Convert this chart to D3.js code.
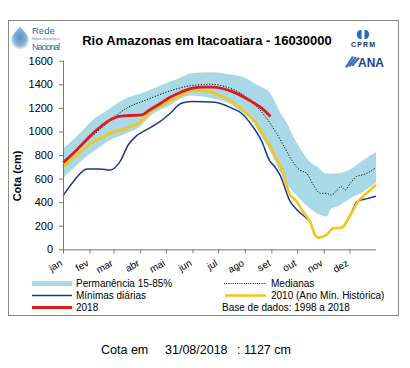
<!DOCTYPE html>
<html><head><meta charset="utf-8">
<script src="https://cdn.jsdelivr.net/npm/d3@7"></script>
<style>body{margin:0;background:#fff}svg{display:block}</style>
</head><body><svg id="c" width="410" height="368"></svg>
<script>
// ---- data (day of year, cota in cm) ----
const months = ["jan","fev","mar","abr","mai","jun","jul","ago","set","out","nov","dez"];
const monthStartDays = [0,31,59,90,120,151,181,212,243,273,304,334];
const yTicks = [0,200,400,600,800,1000,1200,1400,1600];

const bandDays  = [0,16,35,55,74,90,101,125,138,150,173,197,212,220,228,241,255,257,272,288,300,304,307,313,319,323,335,350,365];
const bandUpper = [855,956,1098,1197,1282,1320,1352,1423,1460,1494,1502,1480,1455,1423,1390,1330,1140,1120,910,740,680,650,645,640,645,648,680,755,825];
const bandLower = [605,716,829,928,985,1041,1126,1225,1282,1304,1282,1225,1140,1090,998,840,630,603,461,348,291,283,277,348,360,376,433,489,565];

const medDays = [0,16,35,50,74,97,125,150,173,189,204,220,236,249,261,269,276,284,292,300,307,313,319,324,329,335,342,352,365];
const medVals = [730,835,965,1060,1197,1267,1344,1389,1400,1380,1338,1253,1126,985,829,730,673,645,546,475,475,461,495,532,503,560,616,637,693];

const minDays = [0,12,28,43,55,67,76,86,97,113,125,138,150,177,197,208,220,232,241,247,253,265,273,284,288,294,298,307,315,325,335,343,355,365];
const minVals = [455,574,682,682,673,750,885,965,1013,1083,1154,1239,1253,1248,1197,1154,1055,913,750,700,631,404,334,263,234,121,99,121,178,184,291,404,430,450];

const y2010Days = [0,16,35,55,74,90,101,113,125,138,150,166,181,197,212,224,236,241,247,253,265,271,280,288,294,298,307,315,325,335,344,354,365];
const y2010Vals = [700,800,908,985,1027,1083,1168,1215,1260,1310,1345,1343,1310,1253,1168,1083,942,885,790,716,461,418,319,234,121,99,121,178,184,291,404,475,546];

const y2018Days = [0,16,35,55,64,78,92,101,113,125,138,150,163,175,187,197,210,220,232,242];
const y2018Vals = [735,843,985,1098,1126,1135,1140,1183,1235,1290,1335,1365,1375,1375,1362,1340,1295,1253,1195,1127];

const title = "Rio Amazonas em Itacoatiara - 16030000";
const yLabel = "Cota (cm)";
const legendItems = ["Permanência 15-85%","Medianas","Mínimas diárias","2010 (Ano Mín. Histórica)","2018","Base de dados: 1998 a 2018"];
const footer = ["Cota em","31/08/2018",": 1127 cm"];

// ---- drawing ----
const svg = d3.select("#c");
const FONT = "'Liberation Sans', Arial, sans-serif";
const cBand = "#a9d8e6", cMin = "#1a3a8e", c2010 = "#f5c518", c2018 = "#e0191d";

svg.append("rect").attr("width",410).attr("height",368).attr("fill","#fff");
svg.append("rect").attr("x",8.5).attr("y",20.5).attr("width",390).attr("height",295)
  .attr("fill","none").attr("stroke","#8c8c8c").attr("stroke-width",1);

const x = d3.scaleLinear().domain([0,365]).range([63,376]);
const y = d3.scaleLinear().domain([0,1600]).range([249.3,60.7]);

const curve = d3.curveMonotoneX;
const bandData = bandDays.map((d,i)=>({d, lo:bandLower[i], hi:bandUpper[i]}));
svg.append("path").datum(bandData).attr("fill",cBand)
  .attr("d", d3.area().curve(curve).x(p=>x(p.d)).y0(p=>y(p.lo)).y1(p=>y(p.hi)));

const line = d3.line().curve(curve).x(p=>x(p[0])).y(p=>y(p[1]));
function series(days, vals, color, w, dash){
  svg.append("path").datum(days.map((d,i)=>[d, vals[i]]))
    .attr("fill","none").attr("stroke",color).attr("stroke-width",w)
    .attr("stroke-linejoin","round").attr("stroke-dasharray",dash||null)
    .attr("d", line);
}
series(minDays, minVals, cMin, 1.5);
series(medDays, medVals, "#111", 1, "1.2,1.6");
series(y2010Days, y2010Vals, c2010, 2.6);
series(y2018Days, y2018Vals, c2018, 2.8);

// axes
const yAxis = svg.append("g").attr("transform","translate(63,0)")
  .call(d3.axisLeft(y).tickValues(yTicks).tickSize(4).tickPadding(6).tickFormat(d3.format("d")));
yAxis.select(".domain").attr("stroke","#777").attr("d","M0.5,60.7V249.3");
yAxis.selectAll(".tick line").attr("stroke","#777");
yAxis.selectAll("text").attr("font-family",FONT).attr("font-size",11).attr("fill","#000");

const xAxis = svg.append("g").attr("transform","translate(0,249.3)")
  .call(d3.axisBottom(x).tickValues(monthStartDays).tickSize(4).tickFormat(""));
xAxis.select(".domain").attr("stroke","#777").attr("d","M63,0.5H376");
xAxis.selectAll(".tick line").attr("stroke","#777");
svg.append("g").selectAll("text").data(months).join("text")
  .attr("transform",(m,i)=>`translate(${x(monthStartDays[i])},${265}) rotate(-30)`)
  .attr("text-anchor","end").attr("font-family",FONT).attr("font-size",10).attr("fill","#000")
  .text(m=>m);

svg.append("text").attr("transform","translate(21,176) rotate(-90)").attr("text-anchor","middle")
  .attr("font-family",FONT).attr("font-size",11).attr("font-weight","bold").text(yLabel);

svg.append("text").attr("x",207).attr("y",45).attr("text-anchor","middle")
  .attr("font-family",FONT).attr("font-size",13).attr("font-weight","bold").text(title);

// logos
const defs = svg.append("defs");
const g1 = defs.append("radialGradient").attr("id","drop");
g1.append("stop").attr("offset","0%").attr("stop-color","#3d7fb8");
g1.append("stop").attr("offset","70%").attr("stop-color","#6fa6d3");
g1.append("stop").attr("offset","100%").attr("stop-color","#cfe3f3");
svg.append("path").attr("d","M20,26 C24,32 29,35 29,41 C29,46 25,49 20,49 C15,49 11,46 11,41 C11,35 16,32 20,26Z")
  .attr("fill","url(#drop)").attr("opacity",0.85);
svg.append("text").attr("x",32).attr("y",34).attr("font-family",FONT).attr("font-size",9.5).attr("fill","#2f69a8").text("Rede");
svg.append("text").attr("x",32).attr("y",39.6).attr("font-family",FONT).attr("font-size",3.2).attr("fill","#5b8fc4").text("Hidrometeorológica");
svg.append("text").attr("x",32).attr("y",49.5).attr("font-family",FONT).attr("font-size",9).attr("fill","#2f69a8").attr("textLength",28).text("Nacional");

svg.append("path").attr("d","M361.5,30 C358,30 357,32 357,34.5 C357,37 358,39 361.5,39 Z").attr("fill","#1d6fc4");
svg.append("path").attr("d","M364.5,30 C368,30 369,32 369,34.5 C369,37 368,39 364.5,39 Z").attr("fill","#1d6fc4");
svg.append("text").attr("x",363).attr("y",47).attr("text-anchor","middle").attr("font-family",FONT)
  .attr("font-size",7).attr("font-weight","bold").attr("fill","#1a2f6e").attr("textLength",24).text("CPRM");
const ana = svg.append("g").attr("fill","#3a6db5");
[0,3,6].forEach(o=>{
  ana.append("path").attr("d",`M${345+o},${67-o*0.3} L${352+o},${56+o*0.2} L${354+o},${57+o*0.2} L${347+o},${68-o*0.3} Z`);
});
svg.append("text").attr("x",358).attr("y",67).attr("font-family",FONT).attr("font-size",12)
  .attr("font-weight","bold").attr("fill","#1f3f8f").text("ANA");

// legend
const L = svg.append("g").attr("font-family",FONT).attr("font-size",10).attr("fill","#000");
L.append("rect").attr("x",32).attr("y",281).attr("width",40).attr("height",5).attr("fill",cBand);
L.append("text").attr("x",76).attr("y",287).text(legendItems[0]);
L.append("line").attr("x1",224).attr("x2",266).attr("y1",283.5).attr("y2",283.5).attr("stroke","#111").attr("stroke-dasharray","1,1.2");
L.append("text").attr("x",271).attr("y",287).text(legendItems[1]);
L.append("line").attr("x1",32).attr("x2",72).attr("y1",295.5).attr("y2",295.5).attr("stroke",cMin).attr("stroke-width",1.5);
L.append("text").attr("x",76).attr("y",299).text(legendItems[2]);
L.append("line").attr("x1",225).attr("x2",266).attr("y1",295.5).attr("y2",295.5).attr("stroke",c2010).attr("stroke-width",2.6);
L.append("text").attr("x",271).attr("y",299).text(legendItems[3]);
L.append("line").attr("x1",32).attr("x2",72).attr("y1",307.5).attr("y2",307.5).attr("stroke",c2018).attr("stroke-width",2.8);
L.append("text").attr("x",76).attr("y",311).text(legendItems[4]);
L.append("text").attr("x",222).attr("y",311).text(legendItems[5]);

// footer
const F = svg.append("g").attr("font-family",FONT).attr("font-size",12.5).attr("fill","#000");
F.append("text").attr("x",101).attr("y",354).text(footer[0]);
F.append("text").attr("x",165).attr("y",354).text(footer[1]);
F.append("text").attr("x",237).attr("y",354).text(footer[2]);
</script></body></html>
